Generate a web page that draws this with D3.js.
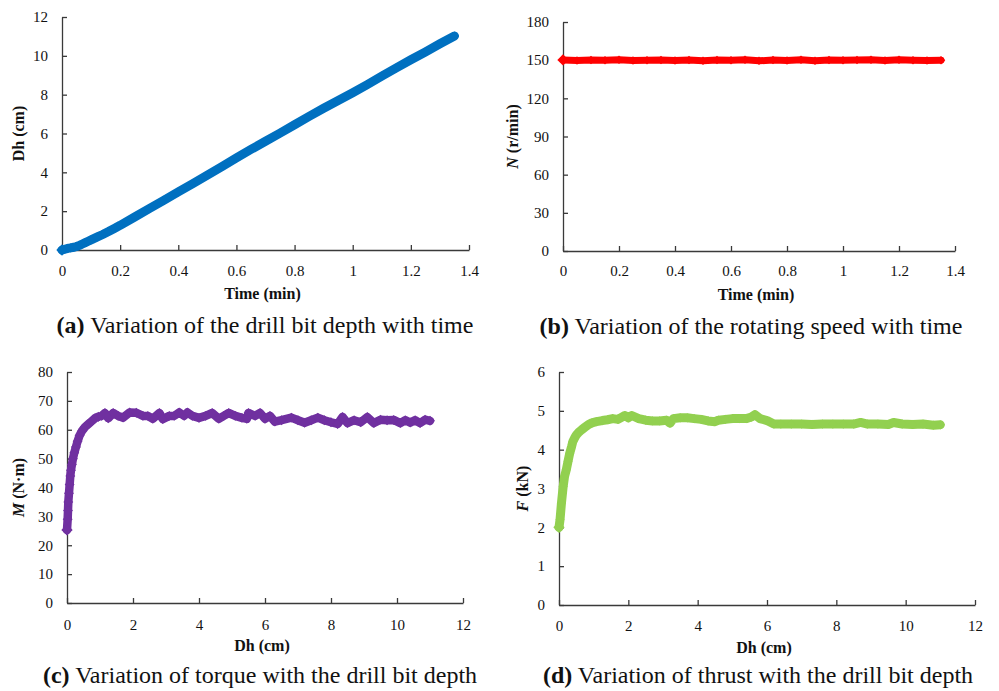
<!DOCTYPE html>
<html>
<head>
<meta charset="utf-8">
<script src="https://cdn.jsdelivr.net/npm/d3@7"></script>
<style>
html,body{margin:0;padding:0;background:#fff;}
svg{display:block;}
</style>
</head>
<body>
<svg id="chart" width="999" height="691" font-family="Liberation Serif"></svg>
<script>
// ---------------- data ----------------
// (a) drill bit depth vs time
const timeA = [0,0.01,0.02,0.03,0.04,0.05,0.06,0.07,0.08,0.09,0.10,0.12,0.14,0.16,0.18,0.20,0.25,0.30,0.35,0.40,0.45,0.50,0.55,0.60,0.65,0.70,0.75,0.80,0.85,0.90,0.95,1.00,1.05,1.10,1.15,1.20,1.25,1.30,1.35];
const depthA = [0,0.04,0.08,0.11,0.14,0.18,0.24,0.31,0.38,0.45,0.52,0.66,0.8,0.95,1.11,1.27,1.7,2.13,2.56,2.99,3.42,3.86,4.3,4.75,5.18,5.6,6.02,6.45,6.88,7.3,7.7,8.1,8.52,8.95,9.38,9.8,10.2,10.62,11.02];

// (b) rotating speed vs time
const timeB = [0,0.05,0.1,0.15,0.2,0.25,0.3,0.35,0.4,0.45,0.5,0.55,0.6,0.65,0.7,0.75,0.8,0.85,0.9,0.95,1.0,1.05,1.1,1.15,1.2,1.25,1.3,1.35];
const speedB = [150.2,149.8,150.1,149.9,150.3,149.7,150.0,150.2,149.8,150.1,149.6,150.2,149.9,150.3,149.5,150.1,149.8,150.4,149.6,150.2,149.9,150.1,150.3,149.8,150.4,150.0,149.7,150.0];

// (c) torque vs drill bit depth
const depthC = [0,0.02,0.03,0.04,0.06,0.08,0.10,0.12,0.15,0.18,0.22,0.27,0.32,0.38,0.45,0.55,0.65,0.75,0.85,0.95,1.05,1.15,1.25,1.4,1.55,1.7,1.9,2.1,2.3,2.45,2.6,2.8,2.9,3.1,3.25,3.4,3.55,3.65,3.8,4.0,4.2,4.4,4.6,4.75,4.9,5.1,5.3,5.45,5.5,5.7,5.85,6.0,6.15,6.3,6.5,6.8,7.0,7.2,7.4,7.6,7.8,8.0,8.2,8.35,8.5,8.7,8.9,9.1,9.3,9.5,9.7,9.9,10.1,10.25,10.4,10.55,10.7,10.85,11.0];
const torqueC = [25.3,29,32,35,38,41,44,46,48,50,52,54,56,58,59.5,61,62,63,64,64.5,64.8,65.8,64,65.8,64.8,64.2,66,65.9,64.8,64.8,63.8,65.8,63.7,64.8,64.8,66,64.8,66,64.8,64.1,64.8,65.8,63.8,64.8,65.8,64.8,64.1,63.8,65.8,64.8,65.8,63.8,64.8,62.8,63.3,64.2,63.3,62.4,63.3,64.2,63.3,62.6,62,64.4,62.3,63.3,62.6,64.4,62.3,63.5,63.3,63.4,62.3,63.3,62.5,63.3,62.3,63.5,63.1];

// (d) thrust vs drill bit depth
const depthD = [0,0.03,0.07,0.12,0.16,0.21,0.26,0.31,0.36,0.40,0.45,0.5,0.57,0.65,0.75,0.84,0.95,1.08,1.25,1.4,1.55,1.7,1.9,2.0,2.1,2.3,2.5,2.7,2.9,3.1,3.2,3.3,3.5,3.7,3.9,4.1,4.3,4.5,4.6,4.8,5.0,5.2,5.4,5.55,5.65,5.8,6.0,6.2,6.4,6.7,7.0,7.3,7.6,7.9,8.2,8.5,8.7,8.9,9.2,9.5,9.65,9.9,10.2,10.5,10.8,11.0];
const thrustD = [2.0,2.2,2.62,3.05,3.31,3.48,3.7,3.91,4.07,4.21,4.3,4.38,4.45,4.51,4.58,4.64,4.69,4.72,4.75,4.77,4.8,4.78,4.88,4.82,4.88,4.8,4.76,4.74,4.74,4.76,4.68,4.8,4.82,4.82,4.8,4.78,4.74,4.72,4.76,4.78,4.8,4.8,4.8,4.84,4.9,4.8,4.75,4.66,4.66,4.66,4.66,4.65,4.66,4.66,4.66,4.66,4.7,4.66,4.66,4.65,4.7,4.66,4.65,4.66,4.63,4.64];

// tick values
const ticksTime = [0,0.2,0.4,0.6,0.8,1,1.2,1.4];
const ticksDh = [0,2,4,6,8,10,12];
const ticksSpeed = [0,30,60,90,120,150,180];
const ticksTorque = [0,10,20,30,40,50,60,70,80];
const ticksThrust = [0,1,2,3,4,5,6];

// ---------------- panels ----------------
const panels = [
  {x: timeA, y: depthA, xd:[0,1.4], yd:[0,12], xt:ticksTime, yt:ticksDh, color:"#0070C0",
   box:[62,469,250,17], xTitle:"Time (min)", yTitle:[["Dh",false],[" (cm)",false]],
   xTitleY:299, yTitleX:24, cap:["(a)"," Variation of the drill bit depth with time"], capX:265, capY:333,
   stroke:9, mk:6.5, pad:15},
  {x: timeB, y: speedB, xd:[0,1.4], yd:[0,180], xt:ticksTime, yt:ticksSpeed, color:"#FF0000",
   box:[563,955,251,22], xTitle:"Time (min)", yTitle:[["N",true],[" (r/min)",false]],
   xTitleY:300, yTitleX:518, cap:["(b)"," Variation of the rotating speed with time"], capX:751, capY:334,
   stroke:7, mk:6, pad:14},
  {x: depthC, y: torqueC, xd:[0,12], yd:[0,80], xt:ticksDh, yt:ticksTorque, color:"#7030A0",
   box:[67,463,603,372], xTitle:"Dh (cm)", yTitle:[["M",true],[" (N\u00B7m)",false]],
   xTitleY:651, yTitleX:24, cap:["(c)"," Variation of torque with the drill bit depth"], capX:260, capY:683,
   stroke:8.5, mk:7, pad:16},
  {x: depthD, y: thrustD, xd:[0,12], yd:[0,6], xt:ticksDh, yt:ticksThrust, color:"#92D050",
   box:[559,975,605,372], xTitle:"Dh (cm)", yTitle:[["F",true],[" (kN)",false]],
   xTitleY:653, yTitleX:528, cap:["(d)"," Variation of thrust with the drill bit depth"], capX:758, capY:683,
   stroke:9, mk:6.5, pad:15}
];

const svg = d3.select("#chart");
const axisColor = "#3a3a3a";
const FONT = "Liberation Serif";

panels.forEach(p => {
  const [x0, x1, y0, y1] = p.box;
  const xs = d3.scaleLinear().domain(p.xd).range([x0, x1]);
  const ys = d3.scaleLinear().domain(p.yd).range([y0, y1]);
  const g = svg.append("g").attr("font-family", FONT);

  // axes
  const xAxis = d3.axisBottom(xs).tickValues(p.xt).tickSizeInner(-5).tickSizeOuter(0).tickPadding(p.pad)
      .tickFormat(d => String(d));
  const yAxis = d3.axisLeft(ys).tickValues(p.yt).tickSizeInner(-5).tickSizeOuter(0).tickPadding(14)
      .tickFormat(d => String(d));
  const gx = g.append("g").attr("transform", `translate(0,${y0})`).call(xAxis);
  const gy = g.append("g").attr("transform", `translate(${x0},0)`).call(yAxis);
  [gx, gy].forEach(a => {
    a.attr("font-family", FONT).attr("font-size", 15);
    a.selectAll("path.domain").attr("stroke", axisColor).attr("stroke-width", 1.3);
    a.selectAll(".tick line").attr("stroke", axisColor).attr("stroke-width", 1.3);
    a.selectAll(".tick text").attr("font-family", FONT).attr("font-size", 15).attr("fill", "#111");
  });

  // data line + markers
  const pts = p.x.map((v, i) => [v, p.y[i]]);
  const line = d3.line().x(d => xs(d[0])).y(d => ys(d[1]));
  g.append("path").datum(pts).attr("d", line).attr("fill", "none")
    .attr("stroke", p.color).attr("stroke-width", p.stroke)
    .attr("stroke-linejoin", "round").attr("stroke-linecap", "round");
  const sym = d3.symbol().type(d3.symbolSquare).size(p.mk * p.mk);
  g.selectAll("path.mk").data(pts).join("path").attr("class", "mk")
    .attr("d", sym)
    .attr("transform", d => `translate(${xs(d[0])},${ys(d[1])}) rotate(45)`)
    .attr("fill", p.color);
  // larger first marker
  g.append("path").attr("d", d3.symbol().type(d3.symbolSquare).size(64)())
    .attr("transform", `translate(${xs(pts[0][0])},${ys(pts[0][1])}) rotate(45)`)
    .attr("fill", p.color);

  // x title
  g.append("text").attr("x", (x0 + x1) / 2 - 3).attr("y", p.xTitleY)
    .attr("text-anchor", "middle").attr("font-size", 16).attr("font-weight", "bold")
    .attr("font-family", FONT).attr("fill", "#111")
    .text(p.xTitle);
  // y title
  const yt = g.append("text")
    .attr("transform", `translate(${p.yTitleX},${(y0 + y1) / 2}) rotate(-90)`)
    .attr("text-anchor", "middle").attr("font-size", 16).attr("font-weight", "bold")
    .attr("font-family", FONT).attr("fill", "#111");
  p.yTitle.forEach(([t, it]) => {
    yt.append("tspan").attr("font-style", it ? "italic" : "normal").text(t);
  });
  // caption
  const cap = g.append("text").attr("x", p.capX).attr("y", p.capY)
    .attr("text-anchor", "middle").attr("font-size", 24)
    .attr("font-family", FONT).attr("fill", "#111");
  cap.append("tspan").attr("font-weight", "bold").text(p.cap[0]);
  cap.append("tspan").text(p.cap[1]);
});
</script>
</body>
</html>
